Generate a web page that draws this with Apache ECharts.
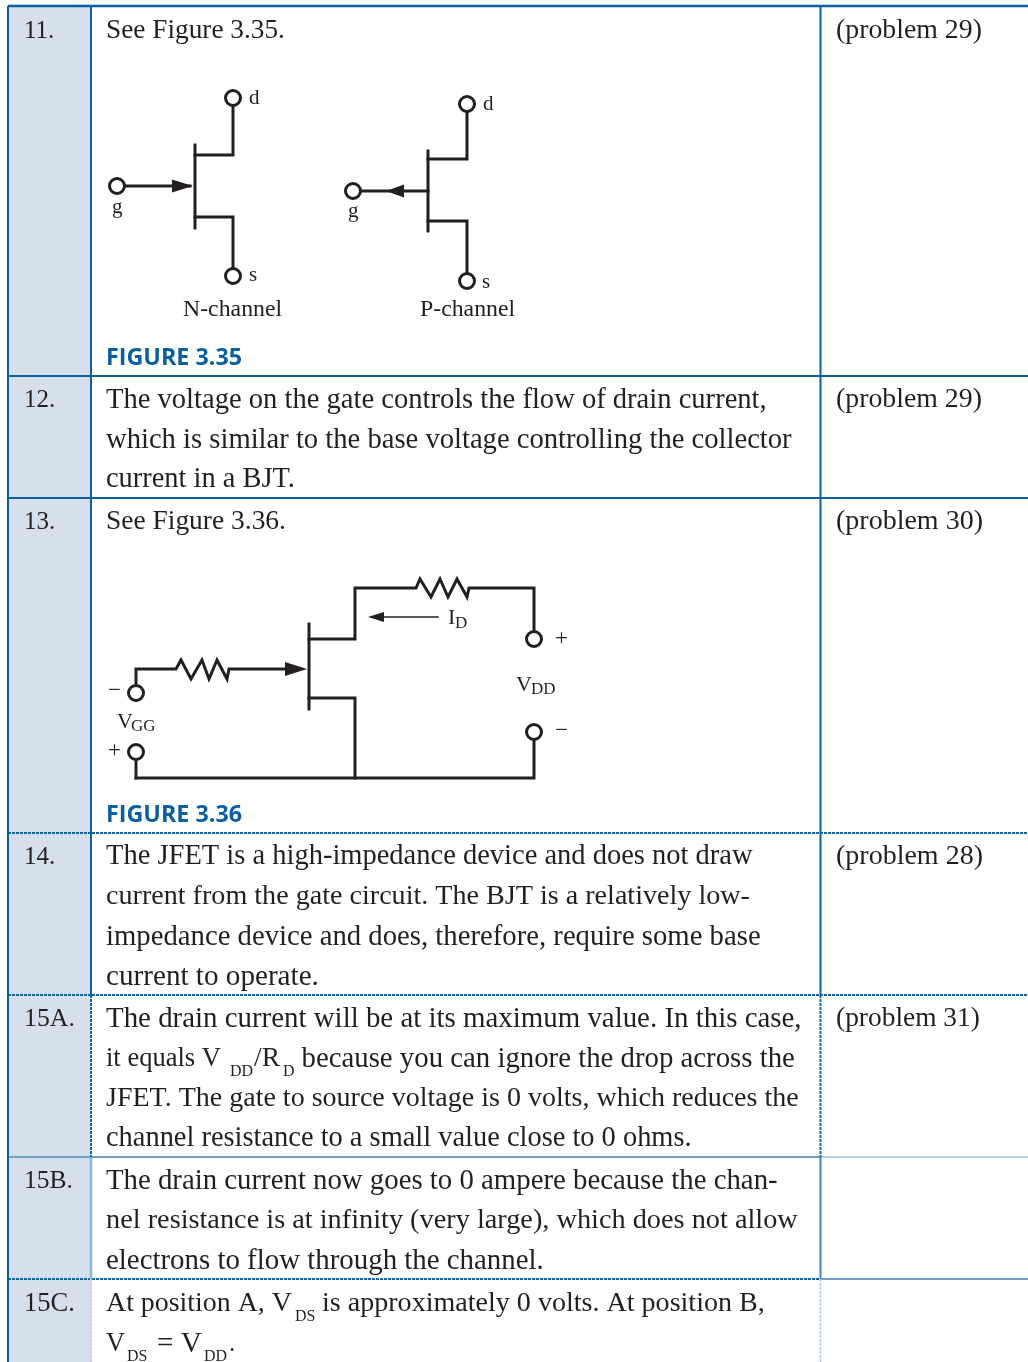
<!DOCTYPE html>
<html><head><meta charset="utf-8">
<style>html,body{margin:0;padding:0;background:#fff}#c{width:1028px;height:1362px}</style>
<script src="https://cdn.jsdelivr.net/npm/echarts@6/dist/echarts.min.js"></script>
</head><body><div id="c"></div>
<script>
// shaded number column [x0,x1,y0,y1]
const shadedColumn=[[9,91,6,1362]];
// table rules: x0,y0,x1,y1,width,colour,dash
const tableRules=[
[8,6,1028,6,2.5,'#0a5f9e',0],
[8,376,1028,376,2,'#0a5f9e',0],
[8,498,1028,498,2,'#0a5f9e',0],
[8,833,1028,833,2,'#14659f',1],
[8,995,1028,995,2,'#14659f',1],
[8,1157,821,1157,2,'#6ea2c9',0],
[821,1157,1028,1157,2,'#b9d0e3',0],
[8,1279,821,1279,2,'#14659f',1],
[821,1279,1028,1279,2,'#6f9fc6',0],
[8,6,8,1362,2,'#0a5f9e',0],
[91,6,91,995,2,'#0a5f9e',0],
[91,995,91,1157,2,'#14659f',1],
[91,1157,91,1279,2.5,'#8fb3d2',0],
[91,1279,91,1362,2,'#c2d3e3',1],
[820.5,6,820.5,995,2,'#0a5f9e',0],
[820.5,995,820.5,1157,2,'#14659f',1],
[820.5,1157,820.5,1279,2,'#3f86bd',0],
[820.5,1279,820.5,1362,1.5,'#a9c7df',1]
];
// body text: x, y centre, text, right edge
const bodyText=[
[24,29,'11.',54],[106,29,'See Figure 3.35.',285],[836,29,'(problem 29)',982],
[24,398,'12.',55],[106,398,'The voltage on the gate controls the flow of drain current,',767],[836,398,'(problem 29)',982],
[106,438,'which is similar to the base voltage controlling the collector',792],
[106,478,'current in a BJT.',295],
[24,520,'13.',55],[106,520,'See Figure 3.36.',286],[836,520,'(problem 30)',983],
[24,855,'14.',55],[106,855,'The JFET is a high-impedance device and does not draw',753],[836,855,'(problem 28)',983],
[106,895,'current from the gate circuit. The BJT is a relatively low-',750],
[106,935,'impedance device and does, therefore, require some base',761],
[106,975,'current to operate.',319],
[24,1017,'15A.',75],[106,1017,'The drain current will be at its maximum value. In this case,',802],[836,1017,'(problem 31)',980],
[106,1057,'it equals V',221],[254,1057,'/R',280],[301.5,1057,'because you can ignore the drop across the',795],
[106,1097,'JFET. The gate to source voltage is 0 volts, which reduces the',799],
[106,1137,'channel resistance to a small value close to 0 ohms.',692],
[24,1179,'15B.',73],[106,1179,'The drain current now goes to 0 ampere because the chan-',778],
[106,1219,'nel resistance is at infinity (very large), which does not allow',798],
[106,1259,'electrons to flow through the channel.',544],
[24,1302,'15C.',75],[106,1302,'At position A, V',292],[322,1302,'is approximately 0 volts. At position B,',765],
[106,1342,'V',125],[157,1342,'= V',202],[229,1342,'.',234]
];
const subText=[[230,1070,'DD'],[283,1070,'D'],[295,1315,'DS'],[127,1355,'DS'],[204,1355,'DD']];
const figureText=[[106,356,'FIGURE 3.35'],[106,813,'FIGURE 3.36']];
const captionText=[[183,308,'N-channel'],[420,308,'P-channel']];
const terminalText=[
[249,96,'d'],[112,205,'g'],[249,273,'s'],
[483,102,'d'],[348,209,'g'],[482,280,'s']
];
const signText=[[108,749,'+'],[108,689,'−'],[555,637,'+'],[555,729,'−']];
const symbolText=[[448,616,'I'],[516,683,'V'],[117,720,'V']];
const diagramSub=[[455,622,'D'],[531,688,'DD'],[131,725,'GG']];
// wires
const wiresThick=[
[[195,145],[195,228]],
[[195,155],[233,155],[233,98]],
[[195,217],[233,217],[233,276]],
[[117,186],[190,186]],
[[428,151],[428,231]],
[[428,159],[467,159],[467,104]],
[[428,221],[467,221],[467,281]],
[[353,191],[428,191]],
[[309,624],[309,709]],
[[309,639],[355,639],[355,588],[416,588],[420,579],[431,597],[440,579],[448,597],[457,579],[467,597],[469,588],[534,588],[534,639]],
[[309,698],[355,698],[355,778]],
[[136,778],[534,778],[534,732]],
[[136,693],[136,669],[176,669],[181,660],[191,679],[202,660],[209,679],[217,660],[227,679],[229,669],[300,669]],
[[136,752],[136,778]]
];
const wiresThin=[[[378,617],[438,617]]];
const terminals=[[233,98],[233,276],[117,186],[467,104],[467,281],[353,191],[534,639],[534,732],[136,693],[136,752]];
// arrowheads: x, y, rotation, width, length
const arrowHeads=[[182.5,186,-90,13,21],[395,191,90,13,18],[296,669,-90,14,22],[376,617,90,10,16]];

const ink='#231f20', serif='"Liberation Serif",serif';
const labelOf=(font,size,color,weight)=>({show:true,position:'right',distance:0,formatter:p=>p.name,fontFamily:font,fontSize:size,color:color,fontWeight:weight||'normal',align:'left',verticalAlign:'middle',opacity:1});
const textSeries=(rows,font,size,color,weight)=>({
  type:'scatter',data:rows.map(r=>({value:[r[0],r[1]+2],name:r[2]})),symbolSize:0,silent:true,z:6,clip:false,itemStyle:{opacity:1},
  label:labelOf(font,size,color,weight)
});
const ctx=document.createElement('canvas').getContext('2d');
const fitted=rows=>rows.map(r=>{
  ctx.font='100px "Liberation Serif"';
  const size=Math.min(29.5,Math.max(25,100*(r[3]-r[0])/ctx.measureText(r[2]).width));
  return {value:[r[0],r[1]+2],name:r[2],label:labelOf(serif,size,ink)};
});
const wire=(pts,w)=>({type:'line',data:pts,symbol:'none',silent:true,z:3,clip:false,lineStyle:{color:ink,width:w,join:'miter',cap:'square'}});

const series=[
 {type:'custom',silent:true,z:1,clip:false,data:shadedColumn,
  renderItem:(ps,api)=>{const a=api.coord([api.value(0),api.value(2)]),b=api.coord([api.value(1),api.value(3)]);
   return {type:'rect',shape:{x:a[0],y:a[1],width:b[0]-a[0],height:b[1]-a[1]},style:{fill:'#d5e0ec'}};},
  encode:{x:[0,1],y:[2,3]}}
];
tableRules.forEach(r=>series.push({type:'line',data:[[r[0],r[1]],[r[2],r[3]]],symbol:'none',silent:true,z:2,clip:false,
  lineStyle:{color:r[5],width:r[4],cap:'butt',type:r[6]?[3,1]:'solid'}}));
wiresThick.forEach(p=>series.push(wire(p,3)));
wiresThin.forEach(p=>series.push(wire(p,1.4)));
series.push({type:'scatter',data:terminals,symbol:'circle',symbolSize:15,silent:true,z:4,clip:false,itemStyle:{color:'#fff',borderColor:ink,borderWidth:3,opacity:1}});
arrowHeads.forEach(a=>series.push({type:'scatter',data:[[a[0],a[1]]],symbol:'triangle',symbolRotate:a[2],symbolSize:[a[3],a[4]],silent:true,z:5,clip:false,itemStyle:{color:ink,opacity:1}}));
series.push({type:'scatter',data:fitted(bodyText),symbolSize:0,silent:true,z:6,clip:false,itemStyle:{opacity:1},label:labelOf(serif,27,ink)});
series.push(textSeries(subText,serif,16,ink));
series.push(textSeries(figureText,'"Open Sans"',23.3,'#0a5f9e','bold'));
series.push(textSeries(captionText,serif,23.8,ink));
series.push(textSeries(terminalText,serif,21,ink));
series.push(textSeries(signText,serif,23,ink));
series.push(textSeries(symbolText,serif,22,ink));
series.push(textSeries(diagramSub,serif,17,ink));

const chart=echarts.init(document.getElementById('c'),null,{renderer:'canvas'});
chart.setOption({animation:false,backgroundColor:'#fff',
 grid:{left:0,right:0,top:0,bottom:0},
 xAxis:{type:'value',min:0,max:1028,show:false},
 yAxis:{type:'value',min:0,max:1362,inverse:true,show:false},
 tooltip:{show:false},legend:{show:false},series});
</script></body></html>
